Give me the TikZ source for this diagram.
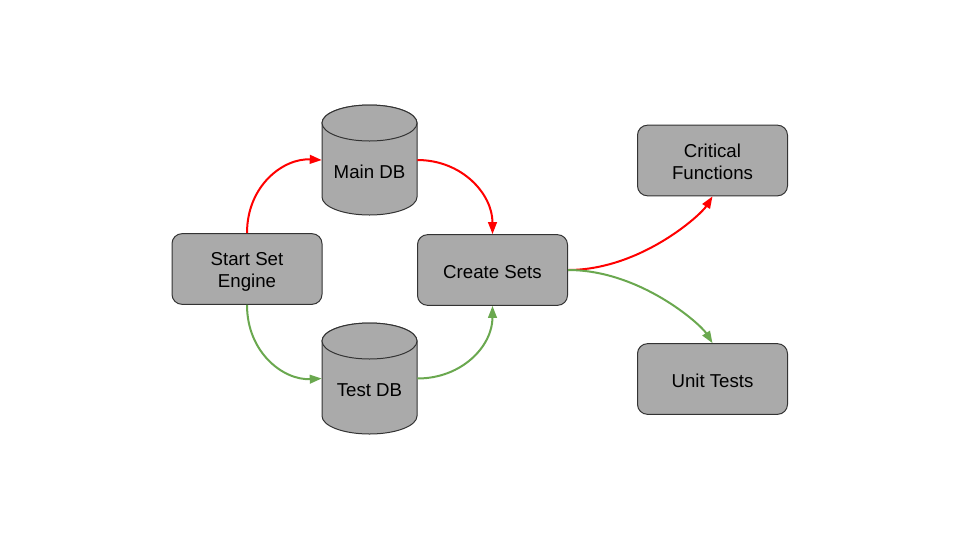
\documentclass[tikz,border=0pt]{standalone}
\usepackage{fontspec}
\setmainfont{Liberation Sans}
\usetikzlibrary{arrows.meta}
\definecolor{boxfill}{HTML}{AAAAAA}
\definecolor{boxline}{HTML}{333333}
\definecolor{redline}{HTML}{FF0000}
\definecolor{greenline}{HTML}{6AA84F}
\tikzset{
  procbox/.style={draw=boxline, fill=boxfill, line width=0.75pt, rounded corners=7.5pt,
    minimum width=112.5pt, minimum height=53pt, align=center, font=\fontsize{14pt}{16.5pt}\selectfont, inner sep=0pt},
  oneline/.style={text height=12.4pt, text depth=0pt},
  twoline/.style={text height=28.1pt, text depth=0pt},
  dbarea/.style={minimum width=71.25pt, minimum height=82.5pt, inner sep=0pt},
  dblabel/.style={font=\fontsize{14pt}{16.5pt}\selectfont, inner sep=0pt},
  cyl/.style={draw=boxline, fill=boxfill, line width=0.75pt},
  redarrow/.style={draw=redline, line width=1.5pt, -{Triangle[length=9pt,width=6.5pt]}},
  greenarrow/.style={draw=greenline, line width=1.5pt, -{Triangle[length=9pt,width=6.5pt]}}
}
\begin{document}
\begin{tikzpicture}[x=0.75pt,y=-0.75pt]
\useasboundingbox (0,0) rectangle (960,540);
% process boxes
\node[procbox,twoline] (start) at (247,269) {Start Set\\Engine};
\node[procbox,oneline] (create) at (492.5,270) {Create Sets};
\node[procbox,twoline] (crit) at (712.5,160.5) {Critical\\Functions};
\node[procbox,oneline] (unit) at (712.5,379) {Unit Tests};
% databases
\node[dbarea] (main) at (369.5,160) {};
\draw[cyl] (322,123) -- (322,197) arc[start angle=180,end angle=0,x radius=47.5,y radius=18]
  -- (417,123) arc[start angle=360,end angle=180,x radius=47.5,y radius=18] -- cycle;
\draw[cyl] (369.5,123) ellipse[x radius=47.5,y radius=18];
\node[dblabel] (mainlbl) at (369.5,172) {Main DB};
\node[dbarea] (test) at (369.5,378.5) {};
\draw[cyl] (322,341) -- (322,416) arc[start angle=180,end angle=0,x radius=47.5,y radius=18]
  -- (417,341) arc[start angle=360,end angle=180,x radius=47.5,y radius=18] -- cycle;
\draw[cyl] (369.5,341) ellipse[x radius=47.5,y radius=18];
\node[dblabel] (testlbl) at (369.5,390) {Test DB};
% connectors
\draw[redarrow] (start.north) .. controls +(0,-48) and +(-38,-2) .. (main.west);
\draw[redarrow] (main.east) .. controls +(45,0) and +(0,-40) .. (create.north);
\draw[greenarrow] (start.south) .. controls +(0,48) and +(-38,2) .. (test.west);
\draw[greenarrow] (test.east) .. controls +(45,0) and +(0,40) .. (create.south);
\draw[redarrow] (create.east) .. controls +(72,0) and +(-12,19) .. (crit.south);
\draw[greenarrow] (create.east) .. controls +(72,0) and +(-12,-19) .. (unit.north);
\end{tikzpicture}
\end{document}
